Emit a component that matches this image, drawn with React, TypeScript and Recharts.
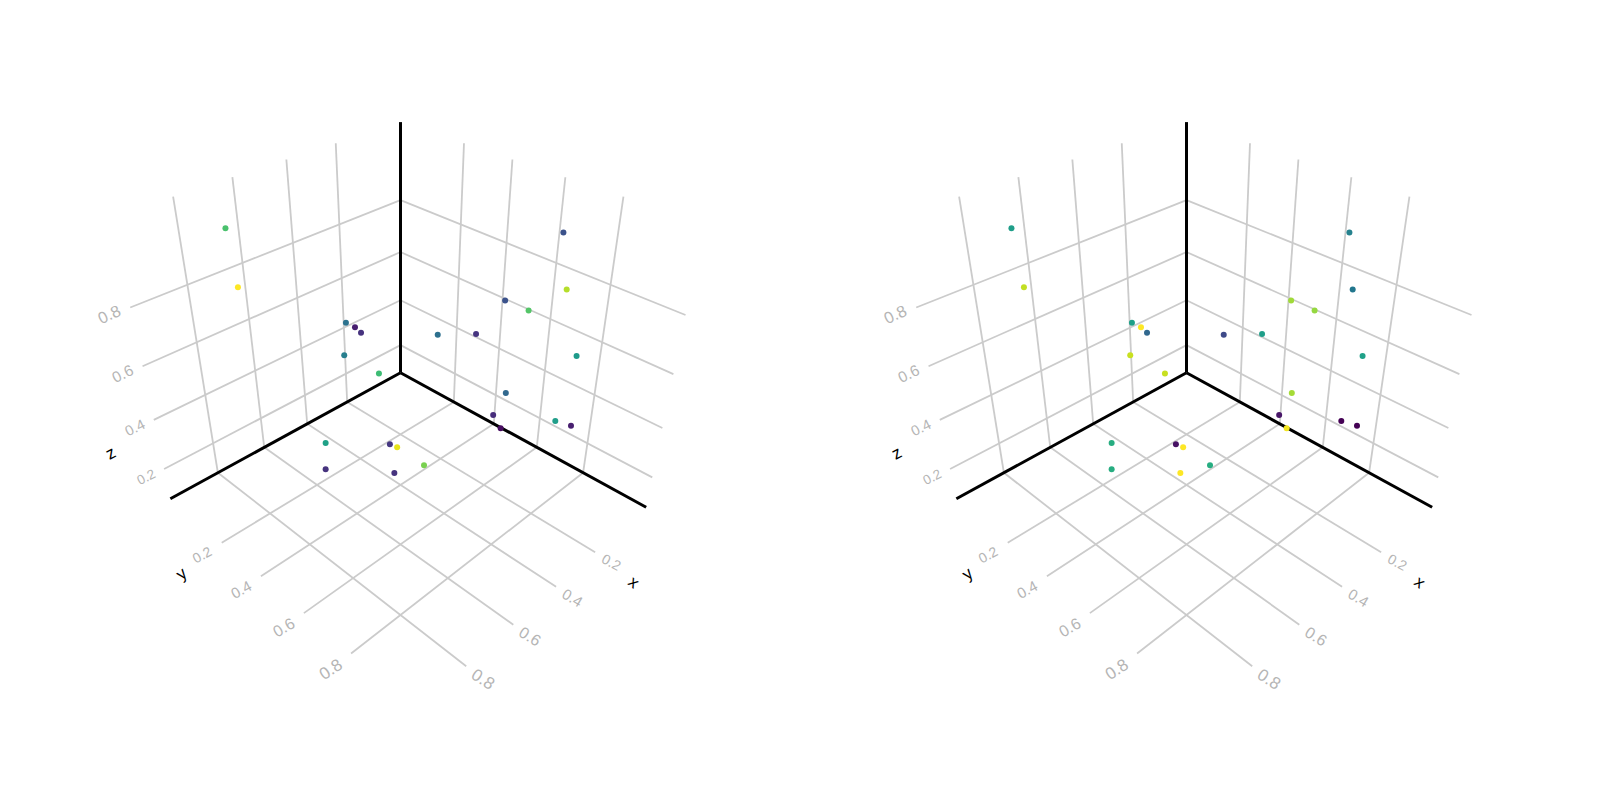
import React from "react";
import { ScatterChart, Scatter, XAxis, YAxis } from "recharts";

// ---- data: three coordinates per point, shared by both panels ----
const pointX = [0.645, 0.627, 0.189, 0.146, 0.117, 0.204, 0.029, -0.091, -0.091, -0.091, -0.091, -0.091, -0.091, -0.091, -0.091, -0.091, -0.091, -0.091, -0.087, 0.428, 0.269, 0.263, 0.525, 0.371, 0.268];
const pointY = [-0.091, -0.091, -0.091, -0.091, -0.091, -0.091, -0.091, 0.614, 0.649, 0.411, 0.511, 0.107, 0.292, 0.715, 0.444, 0.394, 0.664, 0.728, 0.436, 0.046, 0.215, 0.246, 0.158, 0.341, 0.384];
const pointZ = [0.93, 0.726, 0.416, 0.379, 0.344, 0.284, 0.121, 0.906, 0.726, 0.594, 0.596, 0.331, 0.412, 0.511, 0.231, 0.108, 0.222, 0.236, 0.07, 0.07, 0.07, 0.07, 0.07, 0.07, 0.07];

const leftColors = ["#4ac16d", "#fde725", "#2c728e", "#471e6f", "#46327e", "#277f8e", "#3dbc74", "#3b528b", "#b5de2b", "#3b528b", "#54c568", "#2d708e", "#463480", "#1e9b8a", "#31688e", "#472d7b", "#219e8a", "#481f70", "#470d60", "#1fa187", "#453781", "#e7e419", "#46337e", "#46337e", "#7ad151"];
const rightColors = ["#1f9e89", "#c2df23", "#1fa088", "#fde725", "#31688e", "#c8e020", "#c8e020", "#26828e", "#21768d", "#a0da39", "#95d840", "#3e4a89", "#1f9e89", "#1fa188", "#a5db36", "#481668", "#440154", "#440154", "#f3e61e", "#27ad81", "#471164", "#fde725", "#27ad81", "#fde725", "#27ad81"];

const ticks = [0.2, 0.4, 0.6, 0.8];
const tickLabels = ["0.2", "0.4", "0.6", "0.8"];

// axis limits
const X_MIN = -0.0908, X_MAX = 0.99;
const Y_MIN = -0.0908, Y_MAX = 1.049;
const Z_MIN = 0.07, Z_MAX = 1.075;

// where the labels sit along the outside of the box, in data units
const X_LABEL_Y = 1.108;
const Y_LABEL_X = 1.063;
const Z_LABEL_X = 1.055;

// ---- styles ----
const GRID = "#cbcbcb";
const TICK_TEXT = "#b5b5b5";
const FONT = "'Liberation Sans', Arial, sans-serif";
const xAngles = [28, 31, 32, 33];
const yAngles = [-28, -28, -30, -33];
const zAngles = [-26, -26, -26, -25];
const tickSizes = [14, 15, 16, 17];

// perspective camera fitted to the reference
const project = (x: number, y: number, z: number) => {
  const t = x + y;
  const q = z - Z_MIN;
  const w = 1 - 0.172 * (t + q);
  return {
    u: 400.5 + (180 * (y - x) - 3.5 * (y - Y_MIN) * q) / w,
    v: (34.5 * t + 390.6 - 277.5 * q + 3.5 * t * q) / w,
  };
};

type P3 = [number, number, number];
const seg = (a: P3, b: P3) => [project(...a), project(...b)];

const gridSegments = [
  ...ticks.flatMap((x) => [
    seg([x, Y_MIN, Z_MIN], [x, Y_MIN, Z_MAX]),
    seg([x, Y_MIN, Z_MIN], [x, Y_MAX, Z_MIN]),
  ]),
  ...ticks.flatMap((y) => [
    seg([X_MIN, y, Z_MIN], [X_MIN, y, Z_MAX]),
    seg([X_MIN, y, Z_MIN], [X_MAX, y, Z_MIN]),
  ]),
  ...ticks.flatMap((z) => [
    seg([X_MIN, Y_MIN, z], [X_MAX, Y_MIN, z]),
    seg([X_MIN, Y_MIN, z], [X_MIN, Y_MAX, z]),
  ]),
];

const spineSegments = [
  seg([X_MIN, Y_MIN, Z_MIN], [X_MAX, Y_MIN, Z_MIN]),
  seg([X_MIN, Y_MIN, Z_MIN], [X_MIN, Y_MAX, Z_MIN]),
  seg([X_MIN, Y_MIN, Z_MIN], [X_MIN, Y_MIN, Z_MAX]),
];

const tickData = ticks.flatMap((tick, i) => [
  { ...project(tick, X_LABEL_Y, Z_MIN), text: tickLabels[i], angle: xAngles[i], size: tickSizes[i], fill: TICK_TEXT },
  { ...project(Y_LABEL_X, tick, Z_MIN), text: tickLabels[i], angle: yAngles[i], size: tickSizes[i], fill: TICK_TEXT },
  { ...project(Z_LABEL_X, Y_MIN, tick + 0.005), text: tickLabels[i], angle: zAngles[i], size: tickSizes[i] - 0.5, fill: TICK_TEXT },
]);

const axisTitleData = [
  { ...project(0.222, 1.201, Z_MIN), text: "x", angle: 38, size: 17, fill: "#000" },
  { ...project(1.152, 0.223, Z_MIN), text: "y", angle: -38, size: 17, fill: "#000" },
  { ...project(1.147, Y_MIN, 0.357), text: "z", angle: -28, size: 17, fill: "#000" },
];

const LabelShape = (props: any) => {
  const { cx, cy, payload } = props;
  return (
    <text
      x={cx}
      y={cy}
      textAnchor="middle"
      dominantBaseline="central"
      fontFamily={FONT}
      fontSize={payload.size}
      fill={payload.fill}
      transform={`rotate(${payload.angle} ${cx} ${cy})`}
    >
      {payload.text}
    </text>
  );
};

const DotShape = (props: any) => <circle cx={props.cx} cy={props.cy} r={3} fill={props.payload.color} />;
const NoShape = () => null;

const Panel = ({ colors, left }: { colors: string[]; left: number }) => {
  const dots = pointX.map((x, i) => ({ ...project(x, pointY[i], pointZ[i]), color: colors[i] }));
  return (
    <div style={{ position: "absolute", left, top: 0, width: 800, height: 800 }}>
      <ScatterChart width={800} height={800} margin={{ top: 0, right: 0, bottom: 0, left: 0 }}>
        <XAxis type="number" dataKey="u" domain={[0, 800]} hide />
        <YAxis type="number" dataKey="v" domain={[0, 800]} reversed hide />
        {gridSegments.map((s, i) => (
          <Scatter key={`g${i}`} data={s} line={{ stroke: GRID, strokeWidth: 1.8 }} shape={NoShape} isAnimationActive={false} />
        ))}
        {spineSegments.map((s, i) => (
          <Scatter key={`s${i}`} data={s} line={{ stroke: "#000", strokeWidth: 3 }} shape={NoShape} isAnimationActive={false} />
        ))}
        <Scatter data={tickData} shape={LabelShape} isAnimationActive={false} />
        <Scatter data={axisTitleData} shape={LabelShape} isAnimationActive={false} />
        <Scatter data={dots} shape={DotShape} isAnimationActive={false} />
      </ScatterChart>
    </div>
  );
};

export default function App() {
  return (
    <div style={{ position: "absolute", left: 0, top: 0, width: 1600, height: 800, background: "#fff" }}>
      <Panel colors={leftColors} left={0} />
      <Panel colors={rightColors} left={786} />
    </div>
  );
}
